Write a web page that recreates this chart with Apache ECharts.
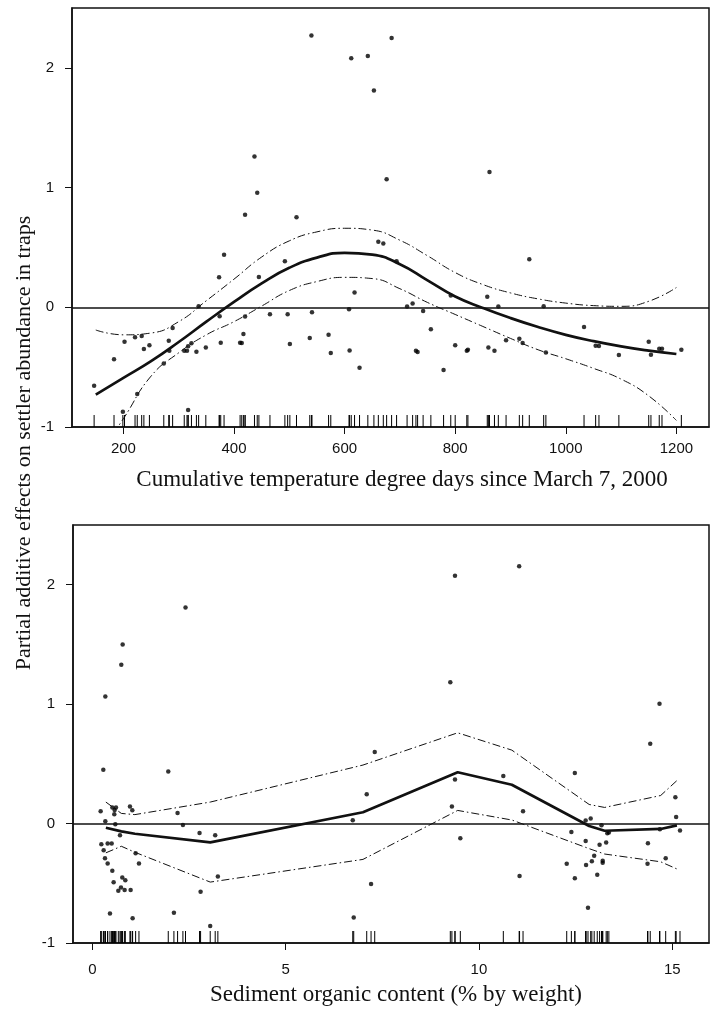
<!DOCTYPE html>
<html>
<head>
<meta charset="utf-8">
<title>Partial additive effects on settler abundance</title>
<script src="https://cdn.jsdelivr.net/npm/echarts@6.0.0/dist/echarts.min.js"></script>
<style>
  html, body { margin: 0; padding: 0; background: #ffffff; }
  #chart { width: 718px; height: 1009px; }
</style>
</head>
<body>
<div id="chart"></div>
<script>
// ---- Panel 1: cumulative temperature degree days ----
const tempX = [147, 183, 199, 202, 221, 225, 233, 237, 247, 273, 282, 283, 289, 310, 315, 317, 317, 323, 332, 336,
  349, 373, 374, 376, 382, 411, 414, 417, 420, 420, 437, 442, 445, 465, 492, 497, 501, 513, 537, 540,
  541, 571, 575, 608, 609, 612, 618, 627, 642, 653, 661, 670, 676, 685, 694, 713, 723, 729, 732, 742,
  756, 779, 792, 800, 821, 823, 858, 860, 862, 871, 878, 892, 916, 922, 934, 960, 964, 1033, 1054, 1060,
  1096, 1150, 1154, 1169, 1174, 1209];
const tempY = [-0.656, -0.435, -0.873, -0.287, -0.251, -0.725, -0.240, -0.349, -0.318, -0.469, -0.279, -0.363, -0.173, -0.363, -0.363, -0.326, -0.859, -0.301, -0.371, 0.008,
  -0.335, 0.251, -0.075, -0.296, 0.438, -0.296, -0.298, -0.223, -0.078, 0.773, 1.26, 0.957, 0.254, -0.059, 0.385, -0.059, -0.307, 0.753, -0.257, 2.27,
  -0.042, -0.229, -0.382, -0.017, -0.360, 2.08, 0.123, -0.505, 2.10, 1.81, 0.547, 0.533, 1.07, 2.25, 0.385, 0.006, 0.031, -0.363, -0.374, -0.031,
  -0.184, -0.524, 0.098, -0.318, -0.363, -0.354, 0.089, -0.335, 1.13, -0.363, 0.006, -0.276, -0.262, -0.298, 0.402, 0.008, -0.377, -0.165, -0.321, -0.324,
  -0.399, -0.287, -0.396, -0.346, -0.346, -0.354];

// smooth term and its pointwise band
const tempFitX  = [150, 200, 250, 300, 350, 400, 450, 500, 550, 600, 650, 700, 750, 800, 850, 900, 950, 1000, 1050, 1100, 1150, 1200];
const tempFit   = [-0.73, -0.59, -0.45, -0.29, -0.12, 0.045, 0.20, 0.33, 0.415, 0.455, 0.44, 0.36, 0.225, 0.09, -0.005, -0.09, -0.165, -0.23, -0.283, -0.327, -0.362, -0.39];
const tempUpper = [-0.19, -0.23, -0.215, -0.12, 0.055, 0.235, 0.42, 0.555, 0.63, 0.66, 0.645, 0.56, 0.43, 0.29, 0.19, 0.12, 0.07, 0.035, 0.014, 0.008, 0.05, 0.165];
const tempLower = [-1.27, -0.93, -0.575, -0.38, -0.23, -0.12, 0.01, 0.14, 0.215, 0.25, 0.24, 0.155, 0.04, -0.06, -0.16, -0.26, -0.355, -0.43, -0.51, -0.60, -0.74, -0.945];
const tempTicks = [200, 400, 600, 800, 1000, 1200];

// ---- Panel 2: sediment organic content ----
const orgX = [0.215, 0.233, 0.284, 0.293, 0.327, 0.336, 0.336, 0.396, 0.396, 0.456, 0.50, 0.517, 0.517, 0.551, 0.568, 0.577, 0.594, 0.612, 0.672, 0.715,
  0.741, 0.749, 0.775, 0.784, 0.835, 0.853, 0.973, 0.991, 1.034, 1.042, 1.12, 1.206, 1.964, 2.11, 2.205, 2.343, 2.41, 2.773, 2.80, 3.049,
  3.178, 3.247, 6.736, 6.761, 7.097, 7.209, 7.304, 9.259, 9.30, 9.38, 9.38, 9.518, 10.63, 11.04, 11.05, 11.14, 12.27, 12.39, 12.48, 12.48,
  12.76, 12.76, 12.77, 12.82, 12.89, 12.92, 12.98, 13.06, 13.12, 13.17, 13.20, 13.20, 13.29, 13.32, 13.36, 14.36, 14.37, 14.43, 14.67, 14.68,
  14.83, 15.08, 15.10, 15.20];
const orgY = [0.103, -0.173, 0.451, -0.223, -0.29, 1.065, 0.02, -0.167, -0.334, -0.753, -0.167, 0.134, -0.396, -0.491, 0.078, 0.114, -0.006, 0.134, -0.563, -0.098,
  -0.535, 1.33, -0.451, 1.50, -0.557, -0.474, 0.142, -0.557, 0.111, -0.792, -0.248, -0.334, 0.435, -0.747, 0.089, -0.011, 1.81, -0.078, -0.571, -0.858,
  -0.098, -0.443, 0.028, -0.786, 0.245, -0.507, 0.599, 1.184, 0.142, 2.076, 0.368, -0.123, 0.399, 2.154, -0.44, 0.103, -0.337, -0.07, 0.424, -0.457,
  0.025, -0.145, -0.346, -0.705, 0.042, -0.315, -0.27, -0.429, -0.178, -0.014, -0.312, -0.329, -0.159, -0.081, -0.075, -0.337, -0.164, 0.669, 1.003, -0.047,
  -0.29, 0.22, 0.056, -0.059];

const orgFitX  = [0.35, 0.75, 1.1, 3.05, 7.0, 9.45, 10.85, 12.85, 13.25, 14.7, 15.12];
const orgFit   = [-0.035, -0.065, -0.085, -0.158, 0.095, 0.43, 0.325, -0.02, -0.06, -0.045, -0.015];
const orgUpper = [0.18, 0.085, 0.075, 0.18, 0.49, 0.76, 0.615, 0.16, 0.135, 0.235, 0.36];
const orgLower = [-0.245, -0.19, -0.24, -0.49, -0.30, 0.11, 0.03, -0.21, -0.255, -0.32, -0.38];
const orgTicks = [0, 5, 10, 15];

const yTicks = [-1, 0, 1, 2];

// ---- helpers ----
const INK = '#111111';
const SANS = 'Liberation Sans';
const zip = (a, b) => a.map((v, i) => [v, b[i]]);

function xAxisFor(gridIndex, min, max, ticks, labelMargin) {
  return {
    type: 'value', gridIndex, min, max,
    axisLine: { show: true, onZero: false, lineStyle: { color: INK, width: 1.5 } },
    axisTick: { show: true, inside: false, length: 7, customValues: ticks, lineStyle: { color: INK, width: 1 } },
    axisLabel: { customValues: ticks, margin: labelMargin, fontFamily: SANS, fontSize: 15, color: INK,
                 formatter: v => String(v) },
    splitLine: { show: false }
  };
}

function yAxisFor(gridIndex) {
  return {
    type: 'value', gridIndex, min: -1, max: 2.5,
    axisLine: { show: true, onZero: false, lineStyle: { color: INK, width: 1.5 } },
    axisTick: { show: true, inside: false, length: 7, customValues: yTicks, lineStyle: { color: INK, width: 1 } },
    axisLabel: { customValues: yTicks, margin: 18, fontFamily: SANS, fontSize: 15, color: INK,
                 formatter: v => String(v) },
    splitLine: { show: false }
  };
}

function panelSeries(idx, xs, ys, fitX, fit, upper, lower, smooth) {
  const band = { color: INK, width: 1, type: [8, 3, 1.5, 3] };
  return [
    {
      type: 'scatter', xAxisIndex: idx, yAxisIndex: idx,
      data: zip(xs, ys), symbol: 'circle', symbolSize: 4.5,
      itemStyle: { color: '#000000' }, silent: true,
      markLine: {
        silent: true, symbol: 'none', label: { show: false },
        lineStyle: { color: INK, width: 1.5, type: 'solid' },
        data: [{ yAxis: 0 }]
      }
    },
    {
      type: 'line', xAxisIndex: idx, yAxisIndex: idx,
      data: zip(fitX, fit), showSymbol: false, smooth,
      lineStyle: { color: INK, width: 2.7 }, silent: true
    },
    {
      type: 'line', xAxisIndex: idx, yAxisIndex: idx,
      data: zip(fitX, upper), showSymbol: false, smooth,
      lineStyle: band, silent: true
    },
    {
      type: 'line', xAxisIndex: idx, yAxisIndex: idx,
      data: zip(fitX, lower), showSymbol: false, smooth,
      lineStyle: band, silent: true
    },
    {
      // rug of observed x values along the bottom edge
      type: 'custom', xAxisIndex: idx, yAxisIndex: idx,
      data: xs.map(v => [v, -1]), silent: true,
      renderItem: (params, api) => {
        const p = api.coord([api.value(0), api.value(1)]);
        return {
          type: 'line',
          shape: { x1: p[0], y1: p[1], x2: p[0], y2: p[1] - 12 },
          style: { stroke: '#000000', lineWidth: 1 }
        };
      }
    }
  ];
}

function titleText(text, x, y, size, rotation) {
  return {
    type: 'text', x, y, rotation: rotation || 0, silent: true,
    style: { text, font: size + 'px "Liberation Serif"', fill: INK, align: 'center', verticalAlign: 'middle' }
  };
}

const chart = echarts.init(document.getElementById('chart'), null, { renderer: 'canvas' });

chart.setOption({
  animation: false,
  backgroundColor: '#ffffff',
  grid: [
    { left: 72, top: 8, width: 637, height: 419, show: true, borderColor: INK, borderWidth: 1.5, backgroundColor: 'transparent' },
    { left: 73, top: 525, width: 636, height: 418, show: true, borderColor: INK, borderWidth: 1.5, backgroundColor: 'transparent' }
  ],
  xAxis: [
    xAxisFor(0, 107, 1259, tempTicks, 14),
    xAxisFor(1, -0.5, 15.95, orgTicks, 19)
  ],
  yAxis: [yAxisFor(0), yAxisFor(1)],
  graphic: [
    titleText('Partial additive effects on settler abundance in traps', 24, 443, 22, Math.PI / 2),
    titleText('Cumulative temperature degree days since March 7, 2000', 402, 480, 23),
    titleText('Sediment organic content (% by weight)', 396, 995, 23)
  ],
  series: [
    ...panelSeries(0, tempX, tempY, tempFitX, tempFit, tempUpper, tempLower, 0.5),
    ...panelSeries(1, orgX, orgY, orgFitX, orgFit, orgUpper, orgLower, false)
  ]
});
</script>
</body>
</html>
